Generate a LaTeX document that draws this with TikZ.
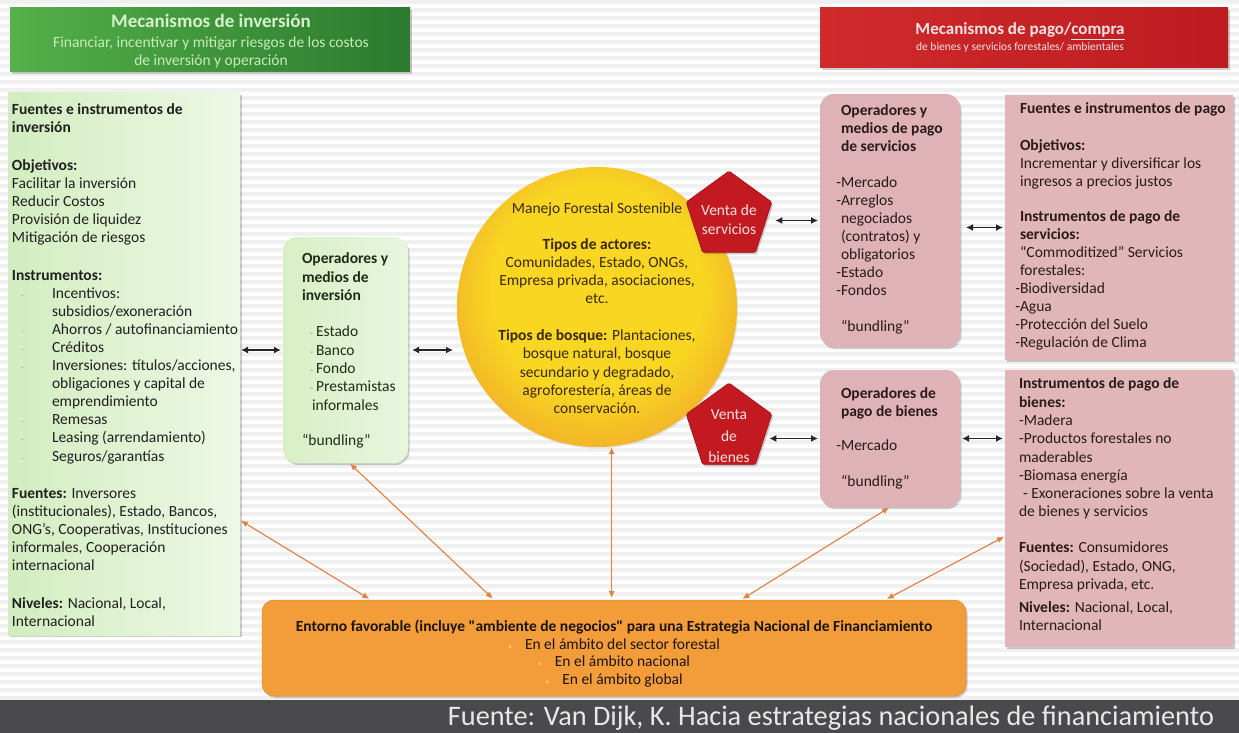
\documentclass[tikz,border=0pt]{standalone}
\usepackage{fontspec}
\usepackage{graphicx}
\setmainfont{Carlito}
\usetikzlibrary{arrows.meta,shapes.geometric,shadows,calc}

\definecolor{stripe}{RGB}{240,240,240}
\definecolor{hgA}{RGB}{84,176,74}
\definecolor{hgB}{RGB}{44,122,46}
\definecolor{hgtitle}{RGB}{214,242,204}
\definecolor{hgsub}{RGB}{200,236,186}
\definecolor{hrA}{RGB}{208,42,44}
\definecolor{hrB}{RGB}{188,28,32}
\definecolor{hrtext}{RGB}{250,228,228}
\definecolor{lpA}{RGB}{210,237,192}
\definecolor{lpB}{RGB}{238,248,229}
\definecolor{oiA}{RGB}{216,239,198}
\definecolor{oiB}{RGB}{232,246,222}
\definecolor{pinkbox}{RGB}{224,182,185}
\definecolor{pinkop}{RGB}{222,178,182}
\definecolor{pentared}{RGB}{194,26,32}
\definecolor{pentadark}{RGB}{160,16,22}
\definecolor{pentatext}{RGB}{250,226,226}
\definecolor{sunin}{RGB}{248,214,34}
\definecolor{sunout}{RGB}{242,178,40}
\definecolor{envfill}{RGB}{243,157,58}
\definecolor{envdark}{RGB}{226,136,40}
\definecolor{oarrow}{RGB}{228,126,58}
\definecolor{footbg}{RGB}{74,74,76}
\definecolor{foottext}{RGB}{232,232,232}
\definecolor{lptext}{RGB}{32,32,32}
\definecolor{oitext}{RGB}{30,44,24}
\definecolor{suntext}{RGB}{58,40,8}
\definecolor{pinktext}{RGB}{42,26,26}
\definecolor{envtext}{RGB}{28,20,12}
\definecolor{bulc}{RGB}{200,150,110}
\definecolor{bulg}{RGB}{120,170,100}
\definecolor{bulo}{RGB}{250,196,140}

\pgfdeclareradialshading{sun}{\pgfpoint{0bp}{5bp}}{color(0bp)=(sunin); color(19bp)=(sunin); color(28bp)=(sunout); color(50bp)=(sunout)}

\newcommand\lpbul{\makebox[40pt][l]{\hspace*{9pt}\textcolor{bulc}{\fontsize{9}{9}\selectfont -}}}
\newcommand\lpind{\hspace*{40pt}}
\newcommand\oibul{\hspace*{8pt}\textcolor{bulg}{\fontsize{10}{10}\selectfont -}\hspace*{3pt}}
\newcommand\oiind{\hspace*{10pt}}
\newcommand\envbul{\textcolor{bulo}{\fontsize{8}{8}\selectfont\textbullet}\hspace*{13pt}}

\tikzset{
  every node/.style={inner sep=0pt, outer sep=0pt},
  shad/.style={drop shadow={shadow xshift=1.5pt, shadow yshift=-2pt, opacity=0.28, fill=black!70}},
  header/.style={rectangle, shad},
  lpanel/.style={rectangle, left color=lpA, right color=lpB, shad},
  opinvbox/.style={rectangle, rounded corners=14pt, left color=oiA, right color=oiB, shad},
  pinkround/.style={rectangle, rounded corners=14pt, fill=pinkop, shad},
  pinkrect/.style={rectangle, fill=pinkbox, shad},
  pentabox/.style={regular polygon, regular polygon sides=5, minimum size=90pt, fill=pentared, draw=pentadark, line width=0.6pt, rounded corners=1.5pt, shad},
  sunbox/.style={circle, minimum size=280pt, shade, shading=sun, drop shadow={shadow xshift=1pt, shadow yshift=-1.5pt, opacity=0.2}},
  envbox/.style={rectangle, rounded corners=12pt, fill=envfill, draw=envdark, line width=0.5pt, shad},
  bodytext/.style={align=left, anchor=north west, font=\fontsize{15.5}{18.1}\selectfont},
  barr/.style={draw=black!85, line width=1.6pt, arrows={Latex[length=7pt,width=7pt]-Latex[length=7pt,width=7pt]}},
  oarr/.style={draw=oarrow, line width=1.1pt, arrows={Latex[length=7pt,width=6pt]-Latex[length=7pt,width=6pt]}, shorten <=1pt, shorten >=2pt}
}

\begin{document}
\begin{tikzpicture}[x=1pt,y=-1pt]
\useasboundingbox (0,0) rectangle (1239,733);
\fill[white] (0,0) rectangle (1239,733);
\foreach \k in {0,...,87} {\fill[stripe] (0,{\k*8}) rectangle (1239,{\k*8+4});}

% headers
\node[header, left color=hgA, right color=hgB, minimum width=400pt, minimum height=64pt] (hg) at (210,40) {};
\node[anchor=base, text=hgtitle, font=\fontsize{19}{20}\selectfont\bfseries] (hgt) at (211,28) {Mecanismos de inversión};
\node[anchor=base, text=hgsub, font=\fontsize{15.5}{16}\selectfont] (hgs1) at (211,47.5) {Financiar, incentivar y mitigar riesgos de los costos};
\node[anchor=base, text=hgsub, font=\fontsize{15.5}{16}\selectfont] (hgs2) at (211,65.5) {de inversión y operación};

\node[header, left color=hrA, right color=hrB, minimum width=408pt, minimum height=60pt] (hr) at (1024,38) {};
\node[anchor=base, text=hrtext, font=\fontsize{17}{18}\selectfont\bfseries] (hrt) at (1020,35) {Mecanismos de pago/\underline{compra}};
\node[anchor=base, text=hrtext, font=\fontsize{11.5}{12}\selectfont] (hrs) at (1020,50.5) {de bienes y servicios forestales/ ambientales};

% left panel
\node[lpanel, minimum width=232pt, minimum height=542pt] (lp) at (124,364) {};
\node[bodytext, text=lptext] (lpt) at (12,104) {%
\textbf{Fuentes e instrumentos de}\\
\textbf{inversión}\\[19.5pt]
\textbf{Objetivos:}\\
Facilitar la inversión\\
Reducir Costos\\
Provisión de liquidez\\
Mitigación de riesgos\\[19pt]
\textbf{Instrumentos:}\\
\lpbul Incentivos:\\
\lpind subsidios/exoneración\\
\lpbul Ahorros / autofinanciamiento\\
\lpbul Créditos\\
\lpbul Inversiones: títulos/acciones,\\
\lpind obligaciones y capital de\\
\lpind emprendimiento\\
\lpbul Remesas\\
\lpbul Leasing (arrendamiento)\\
\lpbul Seguros/garantías\\[19pt]
\textbf{Fuentes:} Inversores\\
(institucionales), Estado, Bancos,\\
ONG’s, Cooperativas, Instituciones\\
informales, Cooperación\\
internacional\\[19.5pt]
\textbf{Niveles:} Nacional, Local,\\
Internacional};

% operators of investment
\node[opinvbox, minimum width=125pt, minimum height=226pt] (opinv) at (345.5,350) {};
\node[bodytext, text=oitext, font=\fontsize{15.5}{18.4}\selectfont] (opinvt) at (302,253) {%
\textbf{Operadores y}\\
\textbf{medios de}\\
\textbf{inversión}\\[17.6pt]
\oibul Estado\\
\oibul Banco\\
\oibul Fondo\\
\oibul Prestamistas\\
\oiind informales\\[16.6pt]
“bundling”};

% central circle
\node[sunbox] (mfs) at (597,307) {};
\node[align=center, anchor=north, text=suntext, font=\fontsize{15.5}{18.1}\selectfont] (mfst) at (597,203) {%
Manejo Forestal Sostenible\\[17.8pt]
\textbf{Tipos de actores:}\\
Comunidades, Estado, ONGs,\\
Empresa privada, asociaciones,\\
etc.\\[18.8pt]
\textbf{Tipos de bosque:} Plantaciones,\\
bosque natural, bosque\\
secundario y degradado,\\
agroforestería, áreas de\\
conservación.};

% pentagons
\node[pentabox] (pserv) at (729,216) {};
\node[align=center, anchor=north, text=pentatext, font=\fontsize{15.5}{19}\selectfont] (pservt) at (729,205) {Venta de\\servicios};
\node[pentabox] (pbien) at (729,428) {};
\node[align=center, anchor=north, text=pentatext, font=\fontsize{15.5}{21.5}\selectfont] (pbient) at (729,410) {Venta\\de\\bienes};

% right side boxes
\node[pinkround, minimum width=140pt, minimum height=253pt] (opserv) at (890,220.5) {};
\node[bodytext, text=pinktext, font=\fontsize{15.5}{18}\selectfont] (opservt) at (841,105) {%
\textbf{Operadores y}\\
\textbf{medios de pago}\\
\textbf{de servicios}\\[18pt]
\llap{-}Mercado\\
\llap{-}Arreglos\\
negociados\\
(contratos) y\\
obligatorios\\
\llap{-}Estado\\
\llap{-}Fondos\\[18pt]
“bundling”};

\node[pinkrect, minimum width=228pt, minimum height=265pt] (fp) at (1119,227.5) {};
\node[bodytext, text=pinktext, font=\fontsize{15.5}{18}\selectfont] (fpt) at (1020,103) {%
\textbf{Fuentes e instrumentos de pago}\\[19pt]
\textbf{Objetivos:}\\
Incrementar y diversificar los\\
ingresos a precios justos\\[17pt]
\textbf{Instrumentos de pago de}\\
\textbf{servicios:}\\
“Commoditized” Servicios\\
forestales:\\
\llap{-}Biodiversidad\\
\llap{-}Agua\\
\llap{-}Protección del Suelo\\
\llap{-}Regulación de Clima};

\node[pinkround, minimum width=140pt, minimum height=137pt] (opbien) at (890,438.5) {};
\node[bodytext, text=pinktext, font=\fontsize{15.5}{18}\selectfont] (opbient) at (841,388) {%
\textbf{Operadores de}\\
\textbf{pago de bienes}\\[16pt]
\llap{-}Mercado\\[18pt]
“bundling”};

\node[pinkrect, minimum width=228pt, minimum height=277pt] (ib) at (1119,508.5) {};
\node[bodytext, text=pinktext, font=\fontsize{15.5}{18.3}\selectfont] (ibt) at (1019,378) {%
\textbf{Instrumentos de pago de}\\
\textbf{bienes:}\\
-Madera\\
-Productos forestales no\\
maderables\\
-Biomasa energía\\
\hspace*{4pt}- Exoneraciones sobre la venta\\
de bienes y servicios\\[17.7pt]
\textbf{Fuentes:} Consumidores\\
(Sociedad), Estado, ONG,\\
Empresa privada, etc.\\[4.7pt]
\textbf{Niveles:} Nacional, Local,\\
Internacional};

% bottom box
\node[envbox, minimum width=704pt, minimum height=96pt] (env) at (614,648) {};
\node[align=center, anchor=north, text=envtext, font=\fontsize{15.5}{17.7}\selectfont] (envt) at (614,620) {%
\textbf{Entorno favorable (incluye \textquotedbl ambiente de negocios\textquotedbl{} para una Estrategia Nacional de Financiamiento}\\
\envbul En el ámbito del sector forestal\\
\envbul En el ámbito nacional\\
\envbul En el ámbito global};

% footer
\node[rectangle, fill=footbg, minimum width=1239pt, minimum height=33pt] (foot) at (619.5,716.5) {};
\node[anchor=base, text=foottext] (foott) at (831,725) {\resizebox{766pt}{!}{\fontsize{26}{28}\selectfont Fuente: Van Dijk, K. Hacia estrategias nacionales de financiamiento}};

% black double arrows
\draw[barr, shorten <=1pt, shorten >=2pt] (opinv.west -| lp.east) -- (opinv.west);
\draw[barr, shorten <=4pt, shorten >=4pt] (opinv.east) -- (opinv.east -| mfs.west);
\draw[barr, shorten <=8pt, shorten >=2pt] (opserv.west -| pserv.east) -- (opserv.west);
\draw[barr, shorten <=6pt, shorten >=2pt] (fp.west -| opserv.east) -- (fp.west);
\draw[barr, shorten <=2pt, shorten >=2pt] (opbien.west -| pbien.east) -- (opbien.west);
\draw[barr, shorten <=2pt, shorten >=2pt] (opbien.east) -- (opbien.east -| ib.west);

% orange double arrows
\draw[oarr] ($(lp.north east)!0.788!(lp.south east)$) -- ($(env.north west)!0.155!(env.north east)$);
\draw[oarr] ($(opinv.south west)!0.53!(opinv.south east)$) -- ($(env.north west)!0.33!(env.north east)$);
\draw[oarr] (mfs.-84) -- (env.north -| mfs.-84);
\draw[oarr] (opbien.south) -- ($(env.north west)!0.68!(env.north east)$);
\draw[oarr] ($(ib.north west)!0.6!(ib.south west)$) -- ($(env.north west)!0.885!(env.north east)$);
\end{tikzpicture}
\end{document}
